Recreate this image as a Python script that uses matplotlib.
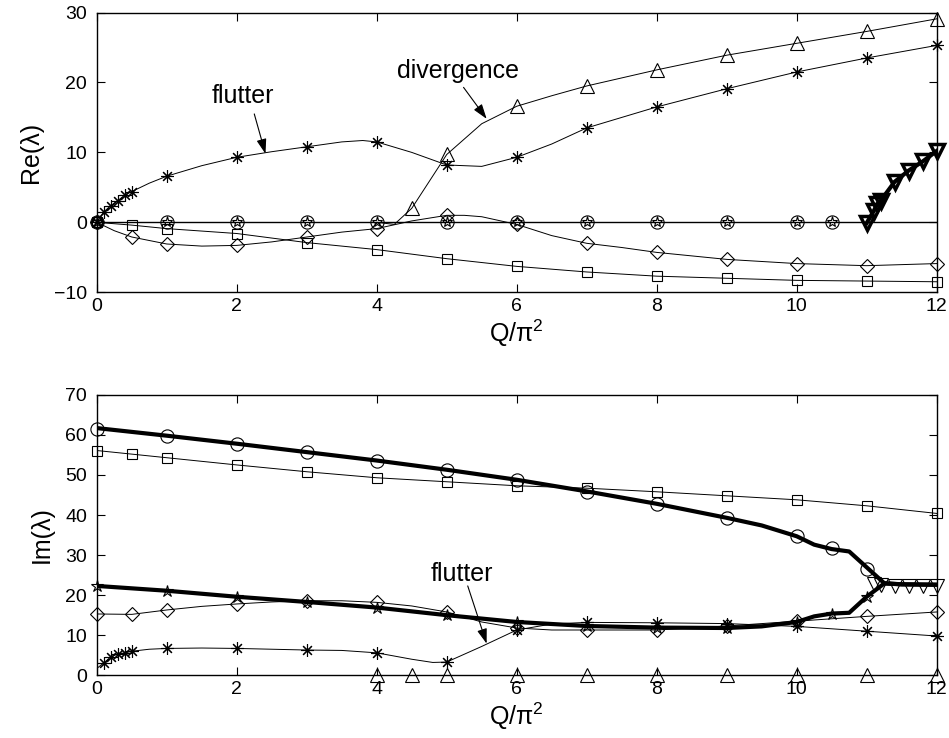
import matplotlib
matplotlib.use("Agg")
import matplotlib.pyplot as plt

plt.rcParams['font.family'] = ['Liberation Sans', 'DejaVu Sans']
plt.rcParams['mathtext.fontset'] = 'custom'
plt.rcParams['mathtext.rm'] = 'Liberation Sans'
plt.rcParams['mathtext.it'] = 'Liberation Sans:italic'

# ---------------- data: Re(lambda) (top panel) ----------------
re_ast_x = [0, 0.1, 0.2, 0.3, 0.4, 0.5, 1, 2, 3, 4, 5, 6, 7, 8, 9, 10, 11, 12]
re_ast_y = [0, 1.5, 2.4, 3.1, 3.9, 4.4, 6.6, 9.3, 10.8, 11.5, 8.2, 9.3, 13.5, 16.5, 19.1, 21.5, 23.5, 25.3]
re_ast_curve_x = [0, 0.1, 0.2, 0.3, 0.4, 0.5, 0.75, 1, 1.5, 2, 2.5, 3, 3.5, 3.8, 4, 4.5, 5, 5.5, 6, 6.5, 7, 7.5, 8, 9, 10, 11, 12]
re_ast_curve_y = [0, 1.5, 2.4, 3.1, 3.9, 4.4, 5.6, 6.6, 8.1, 9.3, 10.1, 10.8, 11.5, 11.7, 11.5, 10.0, 8.2, 8.0, 9.3, 11.2, 13.5, 15.0, 16.5, 19.1, 21.5, 23.5, 25.3]

re_tri_x = [4.5, 5, 6, 7, 8, 9, 10, 11, 12]
re_tri_y = [2.0, 9.7, 16.6, 19.5, 21.8, 23.9, 25.6, 27.3, 29.1]
re_tri_curve_x = [4, 4.25, 4.5, 5, 5.5, 6, 6.5, 7, 8, 9, 10, 11, 12]
re_tri_curve_y = [0.0, -0.3, 2.0, 9.7, 14.1, 16.6, 18.1, 19.5, 21.8, 23.9, 25.6, 27.3, 29.1]

re_dia_x = [0, 0.5, 1, 2, 3, 4, 5, 6, 7, 8, 9, 10, 11, 12]
re_dia_y = [0, -2.1, -3.1, -3.3, -2.1, -0.9, 1.0, -0.3, -3.0, -4.3, -5.3, -5.9, -6.2, -5.9]
re_dia_curve_x = [0, 0.25, 0.5, 1, 1.5, 2, 2.5, 3, 3.5, 4, 4.5, 5, 5.25, 5.5, 6, 6.5, 7, 7.5, 8, 9, 10, 11, 12]
re_dia_curve_y = [0, -1.2, -2.1, -3.1, -3.4, -3.3, -2.8, -2.1, -1.4, -0.9, 0.2, 1.0, 1.0, 0.8, -0.3, -1.9, -3.0, -3.6, -4.3, -5.3, -5.9, -6.2, -5.9]

re_sq_x = [0, 0.5, 1, 2, 3, 4, 5, 6, 7, 8, 9, 10, 11, 12]
re_sq_y = [0, -0.4, -0.9, -1.6, -2.9, -3.9, -5.2, -6.3, -7.1, -7.7, -8.0, -8.3, -8.4, -8.5]

re_circ_x = [0, 1, 2, 3, 4, 5, 6, 7, 8, 9, 10, 10.5]
re_circ_y = [0, 0, 0, 0, 0, 0, 0, 0, 0, 0, 0, 0]

re_dtri_x = [11.0, 11.1, 11.15, 11.2, 11.4, 11.6, 11.8, 12.0]
re_dtri_y = [-0.1, 1.6, 2.6, 3.1, 5.8, 7.4, 8.7, 10.2]

# ---------------- data: Im(lambda) (bottom panel) ----------------
im_sq_x = [0, 0.5, 1, 2, 3, 4, 5, 6, 7, 8, 9, 10, 11, 12]
im_sq_y = [56.1, 55.2, 54.3, 52.5, 50.8, 49.3, 48.3, 47.3, 46.7, 45.8, 44.8, 43.8, 42.3, 40.4]

im_circ_x = [0, 1, 2, 3, 4, 5, 6, 7, 8, 9, 10, 10.5, 11]
im_circ_y = [61.5, 59.8, 57.8, 55.7, 53.5, 51.3, 48.8, 45.8, 42.8, 39.3, 34.8, 31.7, 26.6]
im_upper_x = [0, 1, 2, 3, 4, 5, 6, 7, 8, 9, 9.5, 10, 10.25, 10.5, 10.75, 11.25, 11.5, 12]
im_upper_y = [61.7, 59.8, 57.8, 55.7, 53.6, 51.3, 48.8, 45.9, 42.8, 39.3, 37.4, 34.7, 32.6, 31.5, 30.9, 23.0, 22.7, 22.6]

im_star_x = [0, 1, 2, 3, 4, 5, 6, 7, 8, 9, 10, 10.5, 11]
im_star_y = [22.3, 21.1, 19.6, 18.3, 16.9, 15.0, 13.3, 12.3, 11.9, 11.8, 13.3, 15.4, 19.6]
im_lower_x = [0, 1, 2, 3, 4, 5, 6, 7, 8, 9, 9.5, 10, 10.25, 10.5, 10.75, 11, 11.25, 11.5, 12]
im_lower_y = [22.3, 21.1, 19.6, 18.3, 16.9, 15.0, 13.3, 12.3, 11.9, 11.8, 12.2, 13.3, 14.7, 15.4, 15.6, 19.6, 22.9, 22.7, 22.6]

im_dtri_x = [11.1, 11.2, 11.4, 11.6, 11.8, 12.0]
im_dtri_y = [22.8, 22.6, 22.3, 22.3, 22.3, 22.3]

im_dia_x = [0, 0.5, 1, 2, 3, 4, 5, 6, 7, 8, 9, 10, 11, 12]
im_dia_y = [15.3, 15.3, 16.3, 17.8, 18.6, 18.2, 15.8, 11.8, 11.3, 11.3, 12.3, 13.5, 14.7, 15.8]
im_dia_curve_x = [0, 0.5, 1, 1.5, 2, 2.5, 3, 3.5, 4, 4.5, 5, 5.5, 6, 6.5, 7, 8, 9, 10, 11, 12]
im_dia_curve_y = [15.3, 15.2, 16.3, 17.2, 17.8, 18.3, 18.6, 18.6, 18.2, 17.3, 15.8, 13.3, 11.8, 11.3, 11.3, 11.3, 12.3, 13.5, 14.7, 15.8]

im_ast_x = [0.1, 0.2, 0.3, 0.4, 0.5, 1, 2, 3, 4, 5, 6, 7, 8, 9, 10, 11, 12]
im_ast_y = [3.1, 4.6, 5.3, 5.6, 6.0, 6.7, 6.7, 6.3, 5.6, 3.3, 11.3, 13.2, 13.1, 12.9, 12.2, 11.0, 9.8]
im_ast_curve_x = [0, 0.1, 0.2, 0.3, 0.4, 0.5, 0.75, 1, 1.5, 2, 3, 3.5, 4, 4.5, 4.8, 5, 5.5, 6, 6.5, 7, 8, 9, 10, 11, 12]
im_ast_curve_y = [1.7, 3.1, 4.6, 5.3, 5.6, 6.0, 6.5, 6.7, 6.8, 6.7, 6.3, 6.2, 5.6, 4.0, 3.2, 3.3, 7.2, 11.3, 12.8, 13.2, 13.1, 12.9, 12.2, 11.0, 9.8]

im_tri_x = [4, 4.5, 5, 6, 7, 8, 9, 10, 11, 12]
im_tri_y = [0, 0, 0, 0, 0, 0, 0, 0, 0, 0]

x_ticks = [0, 2, 4, 6, 8, 10, 12]
re_ticks = [-10, 0, 10, 20, 30]
im_ticks = [0, 10, 20, 30, 40, 50, 60, 70]

# ---------------- drawing ----------------
fig = plt.figure(figsize=(9.49, 7.38), dpi=100)
ax1 = fig.add_axes([0.102, 0.604, 0.885, 0.379])
ax2 = fig.add_axes([0.102, 0.085, 0.885, 0.380])

thin = dict(color='k', lw=0.7)
mk = dict(ls='none', mfc='none', mec='k', mew=0.8, clip_on=False)
ast = (8, 2, 0)

# top panel
ax1.axhline(0, color='k', lw=1.0)
ax1.plot(re_ast_curve_x, re_ast_curve_y, **thin)
ax1.plot(re_ast_x, re_ast_y, marker=ast, ms=9, **mk)
ax1.plot(re_tri_curve_x, re_tri_curve_y, **thin)
ax1.plot(re_tri_x, re_tri_y, marker='^', ms=10, **mk)
ax1.plot(re_dia_curve_x, re_dia_curve_y, **thin)
ax1.plot(re_dia_x, re_dia_y, marker='D', ms=7.5, **mk)
ax1.plot(re_sq_x, re_sq_y, **thin)
ax1.plot(re_sq_x, re_sq_y, marker='s', ms=7, **mk)
ax1.plot(re_circ_x, re_circ_y, marker='o', ms=9.5, **mk)
ax1.plot(re_circ_x, re_circ_y, marker='*', ms=8, **mk)
ax1.plot(re_dtri_x, re_dtri_y, color='k', lw=3)
ax1.plot(re_dtri_x, re_dtri_y, ls='none', marker='v', ms=10, mfc='none', mec='k', mew=2.5, clip_on=False)

ax1.set_xlim(0, 12)
ax1.set_ylim(-10, 30)
ax1.set_xticks(x_ticks)
ax1.set_yticks(re_ticks)
ax1.set_ylabel('Re(λ)', fontsize=18, labelpad=8)
ax1.set_xlabel(r'$\mathrm{Q/\pi^2}$', fontsize=18, labelpad=2)

ax1.text(2.09, 18.1, 'flutter', fontsize=18, ha='center', va='center')
ax1.annotate('', xy=(2.41, 9.8), xytext=(2.25, 15.5),
             arrowprops=dict(arrowstyle='-|>,head_length=0.9,head_width=0.3', color='k', lw=0.8, shrinkA=0, shrinkB=0))
ax1.text(5.16, 21.7, 'divergence', fontsize=18, ha='center', va='center')
ax1.annotate('', xy=(5.57, 14.8), xytext=(5.24, 19.3),
             arrowprops=dict(arrowstyle='-|>,head_length=0.9,head_width=0.3', color='k', lw=0.8, shrinkA=0, shrinkB=0))

# bottom panel
ax2.plot(im_sq_x, im_sq_y, **thin)
ax2.plot(im_sq_x, im_sq_y, marker='s', ms=7, **mk)
ax2.plot(im_upper_x, im_upper_y, color='k', lw=3)
ax2.plot(im_circ_x, im_circ_y, marker='o', ms=9.5, **mk)
ax2.plot(im_lower_x, im_lower_y, color='k', lw=3)
ax2.plot(im_star_x, im_star_y, marker='*', ms=9, **mk)
ax2.plot(im_dtri_x, im_dtri_y, marker='v', ms=10, **mk)
ax2.plot(im_dia_curve_x, im_dia_curve_y, **thin)
ax2.plot(im_dia_x, im_dia_y, marker='D', ms=7.5, **mk)
ax2.plot(im_ast_curve_x, im_ast_curve_y, **thin)
ax2.plot(im_ast_x, im_ast_y, marker=ast, ms=9, **mk)
ax2.plot(im_tri_x, im_tri_y, marker='^', ms=10, **mk)

ax2.set_xlim(0, 12)
ax2.set_ylim(0, 70)
ax2.set_xticks(x_ticks)
ax2.set_yticks(im_ticks)
ax2.set_ylabel('Im(λ)', fontsize=18, labelpad=8)
ax2.set_xlabel(r'$\mathrm{Q/\pi^2}$', fontsize=18, labelpad=2)

ax2.text(5.21, 25.25, 'flutter', fontsize=18, ha='center', va='center')
ax2.annotate('', xy=(5.57, 7.9), xytext=(5.30, 22.3),
             arrowprops=dict(arrowstyle='-|>,head_length=0.9,head_width=0.3', color='k', lw=0.8, shrinkA=0, shrinkB=0))

for ax in (ax1, ax2):
    ax.tick_params(direction='in', top=True, right=True, length=6, width=0.8, labelsize=14)
    ax.tick_params(axis='y', pad=7)
    ax.tick_params(axis='x', pad=4)
    for s in ax.spines.values():
        s.set_linewidth(1.0)

fig.savefig('out.png', dpi=100)
